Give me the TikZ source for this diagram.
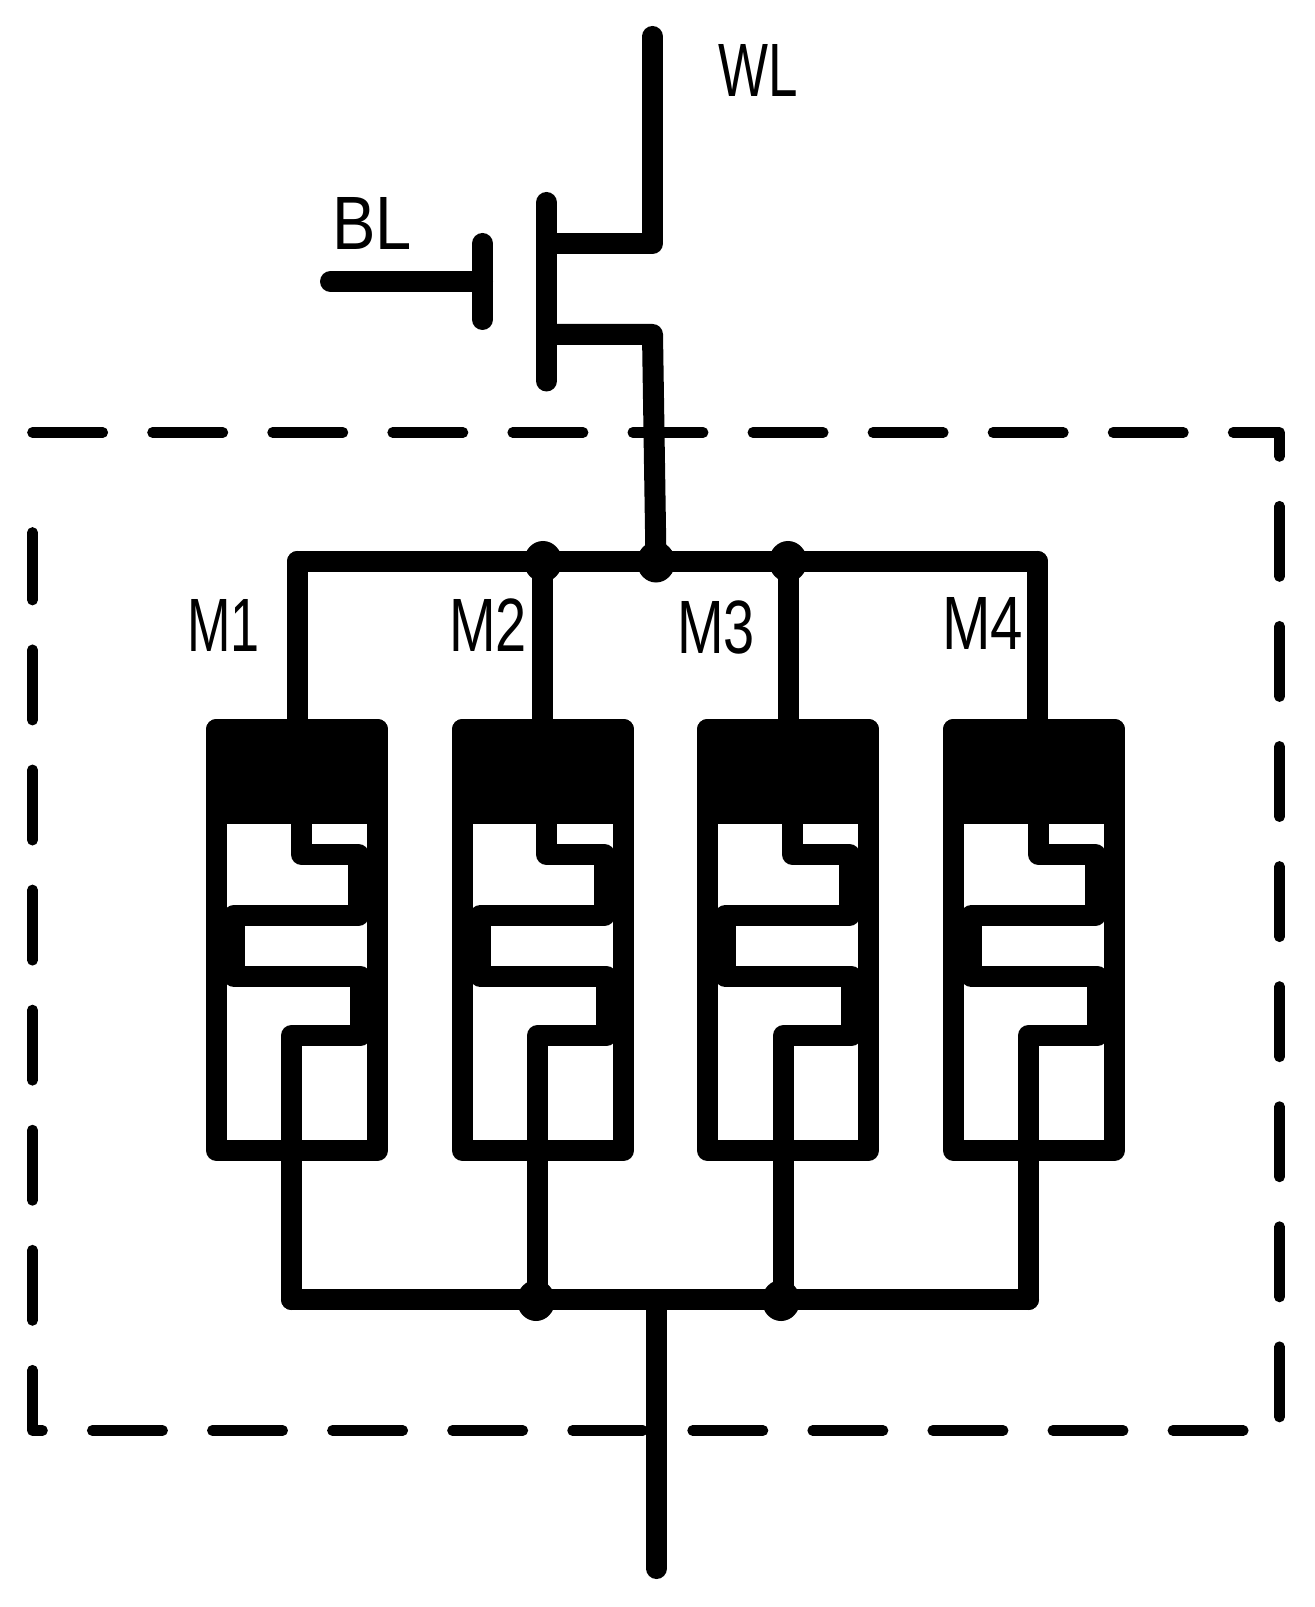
\documentclass[tikz,border=0pt]{standalone}
\usepackage{fontspec}
\setmainfont{Liberation Sans}
\usetikzlibrary{shapes.geometric}
\begin{document}
\begin{tikzpicture}[x=.01cm, y=-.01cm, line join=round, line cap=round,
		wire/.style={line width=.21cm},
		frame/.style={line width=.107cm, dash pattern=on .702cm off .498cm},
		dot/.style={ellipse, fill, inner sep=0, minimum width=.38cm, minimum height=.41cm},
		lab/.style={inner sep=0, font=\fontsize{21.5}{24}\selectfont}]
	\useasboundingbox (0,0) rectangle (1314,1607);
	\draw[frame](32.5,432.5)--(1279.5,432.5)--(1279.5,1430.5)--(32.5,1430.5)--(32.5,532.5);
	\coordinate (wltop) at (652.5,36.5);
	\coordinate (drain) at (652.5,243.5);
	\coordinate (source) at (652.5,334.5);
	\coordinate (bltip) at (330.5,281.5);
	\coordinate (gate) at (482.5,281.5);
	\coordinate (out) at (656.5,1568.5);
	\coordinate (botmid) at (656.5,1299.5);
	\node[dot] (topmid) at (656,562) {};
	\node[dot] (top2) at (543,561.5) {};
	\node[dot] (top3) at (788,561.5) {};
	\node[dot] (bot2) at (536,1300.5) {};
	\node[dot] (bot3) at (781,1300.5) {};
	\draw[wire](wltop)--(drain)--(546.5,243.5);
	\draw[wire](546.5,202.5)--(546.5,381);
	\draw[wire](482.5,243.5)--(482.5,319.5);
	\draw[wire](bltip)--(gate);
	\draw[wire](546.5,334.5)--(source)--(topmid.center);
	\draw[wire](297.5,729.5)--(297.5,561.5)--(1037.5,561.5)--(1037.5,729.5);
	\draw[wire](botmid)--(out);
	\foreach \n/\x/\w/\u/\s in {1/206/297.5/95.5/85.5,2/452/542.5/94.5/85.5,3/697/788.5/95.5/86.5,4/943/1037.5/95.5/85.5}{
		\begin{scope}[shift={(\x,0)}]
			\draw[wire,fill](10.5,729.5)rectangle(171.5,813.5);
			\draw[wire](10.5,729.5)rectangle(171.5,1150.4);
			\draw[wire](\u,813.5)--(\u,854.5)--(152.5,854.5)--(152.5,915.5)--(28,915.5)--(28,976.5)--(154.5,976.5)--(154.5,1035.5)--(\s,1035.5)--(\s,1299.5);
			\coordinate (bus\n) at (\s,1299.5);
		\end{scope}
		\draw[wire](\w,561.5)--(\w,729.5);
	}
	\draw[wire](bus1)--(bus4);
	\node[lab,xscale=.7] (wl) at (758,70.7) {WL};
	\node[lab,xscale=.86] (bl) at (372,223.5) {BL};
	\node[lab,xscale=.69] (m1) at (223.5,625) {M1};
	\node[lab,xscale=.74] (m2) at (488,625.5) {M2};
	\node[lab,xscale=.74] (m3) at (716,627.5) {M3};
	\node[lab,xscale=.77] (m4) at (982.5,623.5) {M4};
\end{tikzpicture}
\end{document}
